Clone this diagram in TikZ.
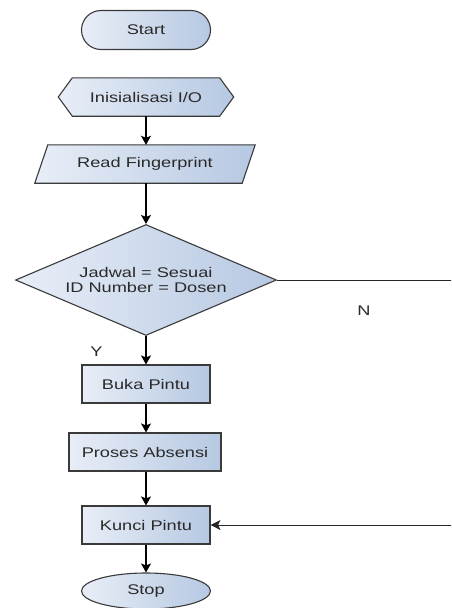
\documentclass[tikz,border=0pt]{standalone}
\usepackage{fontspec}
\setmainfont{Liberation Sans}[FakeStretch=1.3]
\usetikzlibrary{arrows.meta,shapes.geometric,backgrounds}
\definecolor{fillL}{HTML}{E8EEF7}
\definecolor{fillR}{HTML}{B6C8E2}
\definecolor{edge}{HTML}{3A3A3A}
\definecolor{txt}{HTML}{2A2A2A}
\tikzset{
  shp/.style={draw=edge, line width=1.1pt, left color=fillL, right color=fillR},
  lbl/.style={font=\fontsize{14}{15.5}\selectfont, text=txt, inner sep=0pt},
  boxnode/.style={shp, lbl, rectangle, minimum height=38pt},
  plain/.style={lbl, rectangle, draw=none},
  arr/.style={draw=black, line width=1.3pt, -{Stealth[length=9pt,width=10pt,inset=2pt]}},
  nline/.style={draw=black!85, line width=0.9pt},
}
\begin{document}
\begin{tikzpicture}[x=1pt,y=-1pt]
\useasboundingbox (0,0) rectangle (451,608);
\clip (0,0) rectangle (451,608);

\node[shp, lbl, rectangle, rounded corners=19.5pt, minimum width=129pt, minimum height=39pt] (start) at (146,30) {Start};

\node[plain, minimum width=175pt, minimum height=38pt] (init) at (146,97) {Inisialisasi I/O};
\node[plain, minimum width=220pt, minimum height=38pt] (read) at (145,164) {Read Fingerprint};

\begin{scope}[on background layer]
\fill[white] (0,0) rectangle (451,608);
\path[shp] ([xshift=14pt]init.north west) -- ([xshift=-14pt]init.north east) -- (init.east)
  -- ([xshift=-14pt]init.south east) -- ([xshift=14pt]init.south west) -- (init.west) -- cycle;
\path[shp] ([xshift=13pt]read.north west) -- (read.north east)
  -- ([xshift=-13pt]read.south east) -- (read.south west) -- cycle;
\end{scope}

\node[shp, lbl, diamond, aspect=2.35, minimum width=261pt, minimum height=111pt, align=center] (dec) at (146,280) {Jadwal = Sesuai\\ID Number = Dosen};

\node[boxnode, minimum width=128pt] (buka) at (146,384) {Buka Pintu};
\node[boxnode, minimum width=152pt] (proses) at (145,452) {Proses Absensi};
\node[boxnode, minimum width=128pt] (kunci) at (146,525) {Kunci Pintu};
\node[shp, lbl, ellipse, minimum width=129pt, minimum height=36pt] (stop) at (146,591) {Stop};

\coordinate (c1) at (454,280);
\coordinate (c2) at (454,525);

\draw[arr] (init.south -| 146,0) -- (read.north -| 146,0);
\draw[arr] (read.south -| 146,0) -- (dec.north);
\draw[arr] (dec.south) -- (buka.north);
\draw[arr] (buka.south) -- (proses.north -| buka.south);
\draw[arr] (proses.south -| buka.south) -- (kunci.north);
\draw[arr] (kunci.south) -- (stop.north);
\draw[nline] (dec.east) -- (c1) -- (c2);
\draw[nline, -{Stealth[length=10pt,width=10pt,inset=2.5pt]}] (c2) -- (kunci.east);

\node[lbl] (ylab) at (96.5,352) {Y};
\node[lbl] (nlab) at (364,311) {N};
\end{tikzpicture}
\end{document}
